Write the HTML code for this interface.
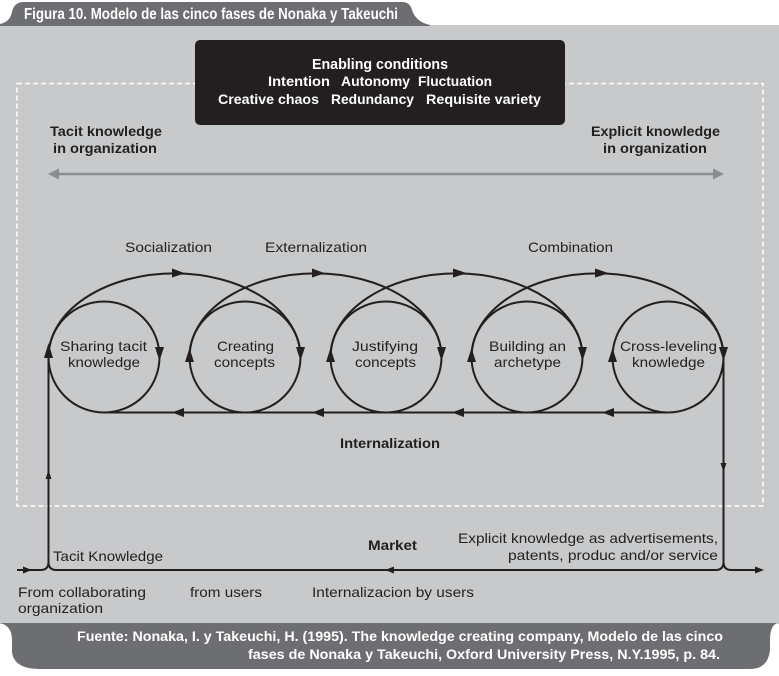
<!DOCTYPE html>
<html>
<head>
<meta charset="utf-8">
<style>
  html,body{margin:0;padding:0;background:#fff;}
  svg{display:block;}
  text{font-family:"Liberation Sans", sans-serif;}
</style>
</head>
<body>
<svg width="779" height="676" viewBox="0 0 779 676" xmlns="http://www.w3.org/2000/svg">
  <!-- body -->
  <rect x="0" y="25" width="779" height="599" fill="#c8c9cb"/>
  <!-- header tab -->
  <path d="M0,26 L0,24 Q10,22 12,12 Q14,2 24,2 H402 Q410,2 412,10 Q416,22 430,25 L430,26 Z" fill="#6d6e71"/>
  <text x="24" y="19" font-size="16" font-weight="bold" fill="#ffffff" textLength="374" lengthAdjust="spacingAndGlyphs">Figura 10. Modelo de las cinco fases de Nonaka y Takeuchi</text>

  <!-- footer -->
  <path d="M0,623 H777 Q770,626 770,640 V650 Q768,669 750,669 H40 Q14,669 12,652 V640 Q12,626 0,623 Z" fill="#6d6e71"/>
  <text x="77" y="641" font-size="14" font-weight="bold" fill="#ffffff" textLength="646" lengthAdjust="spacingAndGlyphs">Fuente: Nonaka, I. y Takeuchi, H. (1995). The knowledge creating company, Modelo de las cinco</text>
  <text x="248" y="659" font-size="14" font-weight="bold" fill="#ffffff" textLength="472" lengthAdjust="spacingAndGlyphs">fases de Nonaka y Takeuchi, Oxford University Press, N.Y.1995, p. 84.</text>

  <!-- dashed rectangle -->
  <rect x="17" y="83.5" width="746" height="422.5" fill="none" stroke="#ffffff" stroke-width="1.5" stroke-dasharray="5,3"/>

  <!-- black box -->
  <rect x="195" y="40" width="370" height="85" rx="5" ry="5" fill="#231f20"/>
  <g font-size="14" font-weight="bold" fill="#ffffff">
    <text x="312" y="69" font-size="15" textLength="136" lengthAdjust="spacingAndGlyphs">Enabling conditions</text>
    <text x="268" y="86" textLength="62" lengthAdjust="spacingAndGlyphs">Intention</text>
    <text x="341" y="86" textLength="69" lengthAdjust="spacingAndGlyphs">Autonomy</text>
    <text x="418" y="86" textLength="74" lengthAdjust="spacingAndGlyphs">Fluctuation</text>
    <text x="218" y="104" textLength="101" lengthAdjust="spacingAndGlyphs">Creative chaos</text>
    <text x="331" y="104" textLength="83" lengthAdjust="spacingAndGlyphs">Redundancy</text>
    <text x="426" y="104" textLength="115" lengthAdjust="spacingAndGlyphs">Requisite variety</text>
  </g>

  <!-- tacit/explicit labels -->
  <g font-size="14" font-weight="bold" fill="#231f20">
    <text x="50" y="136" textLength="112" lengthAdjust="spacingAndGlyphs">Tacit knowledge</text>
    <text x="53" y="153" textLength="104" lengthAdjust="spacingAndGlyphs">in organization</text>
    <text x="591" y="136" textLength="129" lengthAdjust="spacingAndGlyphs">Explicit knowledge</text>
    <text x="603" y="153" textLength="104" lengthAdjust="spacingAndGlyphs">in organization</text>
  </g>

  <!-- gray double arrow -->
  <line x1="56" y1="174" x2="715" y2="174" stroke="#8b8c8e" stroke-width="2.5"/>
  <polygon points="48,174 59,168.5 59,179.5" fill="#8b8c8e"/>
  <polygon points="724,174 713,168.5 713,179.5" fill="#8b8c8e"/>

  <!-- phase labels -->
  <g font-size="14" fill="#231f20">
    <text x="125" y="252" textLength="87" lengthAdjust="spacingAndGlyphs">Socialization</text>
    <text x="265" y="252" textLength="102" lengthAdjust="spacingAndGlyphs">Externalization</text>
    <text x="528" y="252" textLength="85" lengthAdjust="spacingAndGlyphs">Combination</text>
  </g>
  <text x="340" y="448" font-size="14" font-weight="bold" fill="#231f20" textLength="100" lengthAdjust="spacingAndGlyphs">Internalization</text>

  <!-- circles -->
  <g fill="none" stroke="#231f20" stroke-width="2">
    <circle cx="104" cy="357" r="55.5"/>
    <circle cx="245" cy="357" r="55.5"/>
    <circle cx="386" cy="357" r="55.5"/>
    <circle cx="527" cy="357" r="55.5"/>
    <circle cx="668" cy="357" r="55.5"/>
    <!-- outer arcs -->
    <path d="M48.5,357 A126,83.6 0 0 1 300.5,357"/>
    <path d="M189.5,357 A126,83.6 0 0 1 441.5,357"/>
    <path d="M330.5,357 A126,83.6 0 0 1 582.5,357"/>
    <path d="M471.5,357 A126,83.6 0 0 1 723.5,357"/>
    <!-- internalization line -->
    <line x1="104" y1="412.5" x2="668" y2="412.5"/>
    <!-- verticals -->
    <line x1="48.5" y1="357" x2="48.5" y2="562"/>
    <line x1="723.5" y1="357" x2="723.5" y2="562"/>
    <!-- bottom line with forks -->
    <path d="M17,570 H40.5 Q48.5,570 48.5,562"/>
    <path d="M48.5,562 Q48.5,570 56.5,570 H715.5 Q723.5,570 723.5,562"/>
    <path d="M723.5,562 Q723.5,570 731.5,570 H762"/>
  </g>

  <!-- arrowheads -->
  <g fill="#231f20">
    <!-- down arrows on right sides -->
    <polygon points="155,347 164,347 159.5,361"/>
    <polygon points="296,347 305,347 300.5,361"/>
    <polygon points="437,347 446,347 441.5,361"/>
    <polygon points="578,347 587,347 582.5,361"/>
    <polygon points="719,347 728,347 723.5,361"/>
    <!-- up arrows on left sides -->
    <polygon points="44,358 53,358 48.5,343"/>
    <polygon points="185,362 194,362 189.5,348"/>
    <polygon points="326,362 335,362 330.5,348"/>
    <polygon points="467,362 476,362 471.5,348"/>
    <polygon points="608,362 617,362 612.5,348"/>
    <!-- top arrows pointing right -->
    <polygon points="172,268.5 172,277.5 185,273.2"/>
    <polygon points="312,268.5 312,277.5 325,273.2"/>
    <polygon points="453,268.5 453,277.5 467,273.2"/>
    <polygon points="595,268.5 595,277.5 609,273.2"/>
    <!-- internalization arrows pointing left -->
    <polygon points="172,412.5 184,408 184,417"/>
    <polygon points="312,412.5 324,408 324,417"/>
    <polygon points="452,412.5 464,408 464,417"/>
    <polygon points="602,412.5 614,408 614,417"/>
    <!-- vertical small arrows -->
    <polygon points="48.5,470 45.5,479 51.5,479"/>
    <polygon points="723.5,472 720.5,463 726.5,463"/>
    <!-- bottom line arrows -->
    <polygon points="32,570 23,566.5 23,573.5"/>
    <polygon points="385,570 394,566.5 394,573.5"/>
    <polygon points="764,570 755,566.5 755,573.5"/>
  </g>

  <!-- circle labels -->
  <g font-size="14" fill="#231f20">
    <text x="60" y="351" textLength="87" lengthAdjust="spacingAndGlyphs">Sharing tacit</text>
    <text x="68" y="367" textLength="72" lengthAdjust="spacingAndGlyphs">knowledge</text>
    <text x="217" y="351" textLength="57" lengthAdjust="spacingAndGlyphs">Creating</text>
    <text x="214" y="367" textLength="61" lengthAdjust="spacingAndGlyphs">concepts</text>
    <text x="352" y="351" textLength="66" lengthAdjust="spacingAndGlyphs">Justifying</text>
    <text x="355" y="367" textLength="61" lengthAdjust="spacingAndGlyphs">concepts</text>
    <text x="489" y="351" textLength="77" lengthAdjust="spacingAndGlyphs">Building an</text>
    <text x="494" y="367" textLength="67" lengthAdjust="spacingAndGlyphs">archetype</text>
    <text x="620" y="351" textLength="97" lengthAdjust="spacingAndGlyphs">Cross-leveling</text>
    <text x="632" y="367" textLength="73" lengthAdjust="spacingAndGlyphs">knowledge</text>
  </g>

  <!-- bottom labels -->
  <g font-size="14" fill="#231f20">
    <text x="53" y="561" textLength="110" lengthAdjust="spacingAndGlyphs">Tacit Knowledge</text>
    <text x="458" y="543" textLength="260" lengthAdjust="spacingAndGlyphs">Explicit knowledge as advertisements,</text>
    <text x="508" y="560" textLength="210" lengthAdjust="spacingAndGlyphs">patents, produc and/or service</text>
    <text x="18" y="597" textLength="128" lengthAdjust="spacingAndGlyphs">From collaborating</text>
    <text x="18" y="613" textLength="85" lengthAdjust="spacingAndGlyphs">organization</text>
    <text x="190" y="597" textLength="72" lengthAdjust="spacingAndGlyphs">from users</text>
    <text x="312" y="597" textLength="162" lengthAdjust="spacingAndGlyphs">Internalizacion by users</text>
  </g>
  <text x="368" y="550" font-size="14" font-weight="bold" fill="#231f20" textLength="49" lengthAdjust="spacingAndGlyphs">Market</text>
</svg>
</body>
</html>
